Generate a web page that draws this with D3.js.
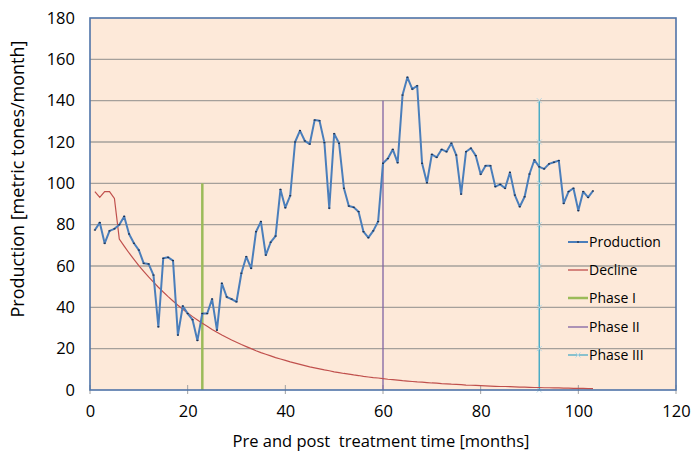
<!DOCTYPE html>
<html>
<head>
<meta charset="utf-8">
<script src="https://cdn.jsdelivr.net/npm/d3@7"></script>
<style>
  html, body { margin: 0; padding: 0; background: #fff; }
  svg { display: block; font-family: "Open Sans", "Liberation Sans", sans-serif; }
</style>
</head>
<body>
<svg id="chart" width="691" height="456"></svg>
<script>
// Monthly production, months 1..103 (metric tones/month)
const months = d3.range(1, 104);
const production = [
  77.4, 81, 71, 77, 78, 80, 84, 75.5, 71, 67.7,
  61.3, 61, 55.6, 30.6, 63.7, 64.2, 62.6, 26.6, 40.6, 37,
  34, 24, 37, 37, 44, 29, 51.6, 45, 44, 42.7,
  56.5, 64.5, 58.9, 76.6, 81.5, 65.3, 71.5, 74.5, 97, 88.2,
  94, 120, 125.5, 120.5, 119, 130.6, 130.3, 119.7, 88, 124,
  119.4, 97.6, 89, 88.4, 86.3, 76.6, 73.7, 77, 81.5, 109.7,
  112, 116.4, 110, 142.7, 151.3, 145.6, 147.2, 109.7, 100.3, 114,
  112.6, 116.4, 115.3, 119.4, 113.7, 94.8, 115.3, 117, 113.4, 104.4,
  108.5, 108.5, 98.4, 99.5, 97.6, 105.3, 94.3, 88.7, 93.5, 104.5,
  111.3, 108, 107, 109.4, 110.2, 111, 90.3, 96, 97.6, 86.8,
  96, 93.2, 96.3
];
// Fitted decline curve, months 1..103
const decline = [
  96, 93.2, 96, 96, 92.7, 73.0, 69.6, 66.3, 63.2, 60.2,
  57.4, 54.7, 52.2, 49.7, 47.4, 45.2, 43.1, 41.0, 39.1, 37.3,
  35.5, 33.9, 32.3, 30.8, 29.3, 27.9, 26.6, 25.4, 24.2, 23.1,
  22.0, 21.0, 20.0, 19.0, 18.1, 17.3, 16.5, 15.7, 15.0, 14.3,
  13.6, 13.0, 12.4, 11.8, 11.2, 10.7, 10.2, 9.7, 9.3, 8.8,
  8.4, 8.0, 7.7, 7.3, 7.0, 6.6, 6.3, 6.0, 5.8, 5.5,
  5.2, 5.0, 4.8, 4.5, 4.3, 4.1, 3.9, 3.8, 3.6, 3.4,
  3.3, 3.1, 3.0, 2.8, 2.7, 2.6, 2.4, 2.3, 2.2, 2.1,
  2.0, 1.9, 1.8, 1.7, 1.7, 1.6, 1.5, 1.4, 1.4, 1.3,
  1.2, 1.2, 1.1, 1.1, 1.0, 1.0, 0.9, 0.9, 0.8, 0.8,
  0.8, 0.7, 0.7
];
// Treatment phase markers: [month, top value]
const phase1 = { month: 23, top: 100 };
const phase2 = { month: 60, top: 140 };
const phase3 = { month: 92, top: 140 };
const phase3Points = [0, 20, 40, 60, 80, 100, 120, 140];

const xTicks = [0, 20, 40, 60, 80, 100, 120];
const yTicks = [0, 20, 40, 60, 80, 100, 120, 140, 160, 180];

const seriesNames = ["Production", "Decline", "Phase I", "Phase II", "Phase III"];
const seriesColors = ["#4A7EBB", "#C0504D", "#9BBB59", "#8064A2", "#4BACC6"];

const svg = d3.select("#chart");
const x = d3.scaleLinear().domain([0, 120]).range([90, 676]);
const y = d3.scaleLinear().domain([0, 180]).range([390, 18]);

// plot area
svg.append("rect")
  .attr("x", x(0)).attr("y", y(180))
  .attr("width", x(120) - x(0)).attr("height", y(0) - y(180))
  .attr("fill", "#FDE9D9");

// horizontal gridlines
svg.append("g").selectAll("line")
  .data(yTicks.filter(d => d > 0 && d < 180))
  .join("line")
  .attr("x1", x(0)).attr("x2", x(120))
  .attr("y1", d => y(d)).attr("y2", d => y(d))
  .attr("stroke", "#A5A09B").attr("stroke-width", 1.3);

// y axis labels
const yAxis = d3.axisLeft(y).tickValues(yTicks).tickSize(0).tickPadding(15);
svg.append("g").attr("transform", `translate(${x(0)},0)`).call(yAxis)
  .call(g => g.select(".domain").remove())
  .call(g => g.selectAll("text").attr("font-size", 16.5).attr("fill", "#000")
    .attr("font-family", "Open Sans"));

// x axis with crossing ticks
const xAxis = d3.axisBottom(x).tickValues(xTicks).tickSize(0).tickPadding(15);
svg.append("g").attr("transform", `translate(0,${y(0)})`).call(xAxis)
  .call(g => g.select(".domain").remove())
  .call(g => g.selectAll("text").attr("font-size", 16.5).attr("fill", "#000")
    .attr("font-family", "Open Sans"));
svg.append("g").selectAll("line")
  .data(xTicks)
  .join("line")
  .attr("x1", d => x(d)).attr("x2", d => x(d))
  .attr("y1", y(0) - 5).attr("y2", y(0) + 4)
  .attr("stroke", "#A0A0A0").attr("stroke-width", 1);

// phase lines
function phaseLine(p, color, w) {
  svg.append("line")
    .attr("x1", x(p.month)).attr("x2", x(p.month))
    .attr("y1", y(0)).attr("y2", y(p.top))
    .attr("stroke", color).attr("stroke-width", w);
}
phaseLine(phase1, seriesColors[2], 2.5);
phaseLine(phase2, seriesColors[3], 1.3);
phaseLine(phase3, seriesColors[4], 1.5);
// phase III point markers
svg.append("g").selectAll("path")
  .data(phase3Points)
  .join("path")
  .attr("d", d => {
    const cx = x(phase3.month), cy = y(d), r = 2.5;
    return `M${cx - r},${cy - r}L${cx + r},${cy + r}M${cx - r},${cy + r}L${cx + r},${cy - r}`;
  })
  .attr("stroke", "#B7D7E2").attr("stroke-width", 1);

// decline curve
const line = d3.line().x((d, i) => x(months[i])).y(d => y(d));
svg.append("path").datum(decline)
  .attr("d", line).attr("fill", "none")
  .attr("stroke", seriesColors[1]).attr("stroke-width", 1.2);

// production
svg.append("path").datum(production)
  .attr("d", line).attr("fill", "none")
  .attr("stroke", seriesColors[0]).attr("stroke-width", 2)
  .attr("stroke-linejoin", "round");
svg.append("g").selectAll("rect")
  .data(production)
  .join("rect")
  .attr("x", (d, i) => x(months[i]) - 1).attr("y", d => y(d) - 0.6)
  .attr("width", 2).attr("height", 1.2)
  .attr("fill", "#1F2F4A");

// plot border / axes lines
svg.append("rect")
  .attr("x", x(0)).attr("y", y(180))
  .attr("width", x(120) - x(0)).attr("height", y(0) - y(180))
  .attr("fill", "none").attr("stroke", "#4F74A8").attr("stroke-width", 1.6);

// legend
const legend = svg.append("g");
const legendY = [242, 270, 298, 327, 355];
seriesNames.forEach((name, i) => {
  const g = legend.append("g").attr("transform", `translate(568,${legendY[i]})`);
  g.append("line").attr("x1", 0).attr("x2", 20).attr("y1", 0).attr("y2", 0)
    .attr("stroke", seriesColors[i]).attr("stroke-width", i === 2 ? 2.5 : (i === 0 ? 2 : 1.3));
  if (i === 0) g.append("rect").attr("x", 9).attr("y", -0.6).attr("width", 2).attr("height", 1.2).attr("fill", "#1F2F4A");
  if (i === 4) g.append("path").attr("d", "M7.5,-2.5L12.5,2.5M7.5,2.5L12.5,-2.5").attr("stroke", "#B7D7E2");
  g.append("text").attr("x", 21).attr("y", 5).attr("font-size", 14)
    .attr("font-family", "Open Sans").text(name);
});

// axis titles
svg.append("text")
  .attr("x", (x(0) + x(120)) / 2 - 2).attr("y", 447)
  .attr("text-anchor", "middle").attr("font-size", 16.5)
  .text("Pre and post  treatment time [months]")
  .attr("xml:space", "preserve").style("white-space", "pre");
svg.append("text")
  .attr("transform", `translate(24,179) rotate(-90)`)
  .attr("text-anchor", "middle").attr("font-size", 18)
  .text("Production [metric tones/month]");
</script>
</body>
</html>
